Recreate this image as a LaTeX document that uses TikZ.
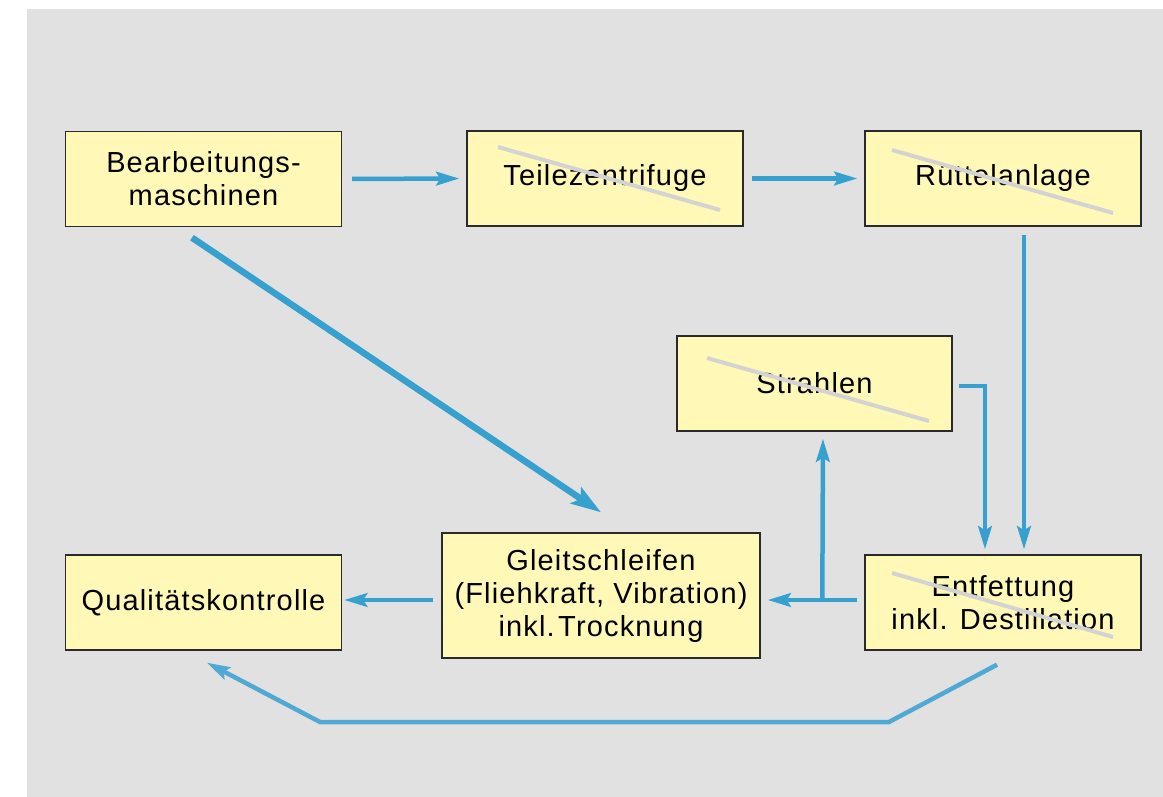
\documentclass[tikz,border=0pt]{standalone}
\usepackage{fontspec}
\setmainfont{Liberation Sans}[LetterSpace=4]
\usetikzlibrary{arrows.meta,calc}
\definecolor{bgc}{HTML}{E1E1E1}
\definecolor{boxfill}{HTML}{FFF8B7}
\definecolor{boxline}{HTML}{2A2A2A}
\definecolor{flowblue}{HTML}{36A0CF}
\definecolor{lightflow}{HTML}{4FA9D4}
\definecolor{strikegray}{HTML}{D3D3D3}
\begin{document}
\begin{tikzpicture}[x=1pt,y=-1pt,
  box/.style={draw=boxline, line width=1.4pt, fill=boxfill, minimum width=276pt, minimum height=95pt, inner sep=0pt, align=center, font=\fontsize{29}{33}\selectfont},
  flow/.style={draw=flowblue, line width=4.5pt, -{Stealth[length=23pt,width=13.5pt,inset=4pt]}},
  thickflow/.style={draw=flowblue, line width=6.5pt, -{Stealth[length=30pt,width=19pt,inset=6pt]}},
  backflow/.style={draw=lightflow, line width=4.5pt, -{Stealth[length=23pt,width=13.5pt,inset=4pt]}},
  strike/.style={draw=strikegray, line width=4pt}]
\useasboundingbox (0,0) rectangle (1163,797);
\fill[white] (0,0) rectangle (1163,797);
\fill[bgc] (27,9) rectangle (1163,797);

\node[box] (bm) at (203.5,179) {Bearbeitungs-\\maschinen};
\node[box] (tz) at (605,178.5) {Teilezentrifuge};
\node[box] (ru) at (1003,178.5) {Rüttelanlage};
\node[box, minimum width=275pt] (st) at (814.5,383.5) {Strahlen};
\node[box] (en) at (1003,602.5) {Entfettung\\inkl. Destillation};
\node[box] (qk) at (203.5,602.5) {Qualitätskontrolle};
\node[box, minimum width=318pt, minimum height=125pt] (gl) at (601,595.5) {Gleitschleifen\\(Fliehkraft, Vibration)\\inkl.\hspace{0.12em}Trocknung};

% strike-through lines
\draw[strike] ($(tz)+(-107,-31.5)$) -- ($(tz)+(115,31.5)$);
\draw[strike] ($(ru)+(-111,-28.5)$) -- ($(ru)+(110,34.5)$);
\draw[strike] ($(st)+(-107.5,-25.5)$) -- ($(st)+(114.5,37.5)$);
\draw[strike] ($(en)+(-111,-29.5)$) -- ($(en)+(110,34.5)$);

% flows
\draw[flow, shorten <=10pt, shorten >=7pt] (bm.east) -- (tz.west);
\draw[flow, shorten <=8pt, shorten >=7pt] (tz.east) -- (ru.west);
\draw[flow, shorten <=8pt, shorten >=5pt] ($(ru.south)+(21,0)$) -- ($(en.north)+(21,0)$);
\draw[flow, shorten <=6pt, shorten >=5pt] ($(st.east)+(0,2.5)$) -| ($(en.north)+(-18,0)$);
\draw[flow, shorten <=7pt, shorten >=7pt] ($(en.west)+(0,-2.5)$) -- ($(gl.east)+(0,4.5)$);
\coordinate (j) at ($(en.west)+(-42,-2.5)$);
\draw[flow, shorten >=7pt] (j) -- ($(st.south)+(8.5,0)$);
\draw[flow, shorten <=8pt, shorten >=2pt] ($(gl.west)+(0,4.5)$) -- ($(qk.east)+(0,-2.5)$);
\draw[thickflow] ($(bm.south)+(-11.5,10.5)$) -- ($(gl.north)+(0,-20)$);
\coordinate (c1) at (889,722);
\coordinate (c2) at (320,722);
\draw[backflow] ($(en.south)+(-6,14)$) -- (c1) -- (c2) -- ($(qk.south)+(3.5,12)$);
\end{tikzpicture}
\end{document}
